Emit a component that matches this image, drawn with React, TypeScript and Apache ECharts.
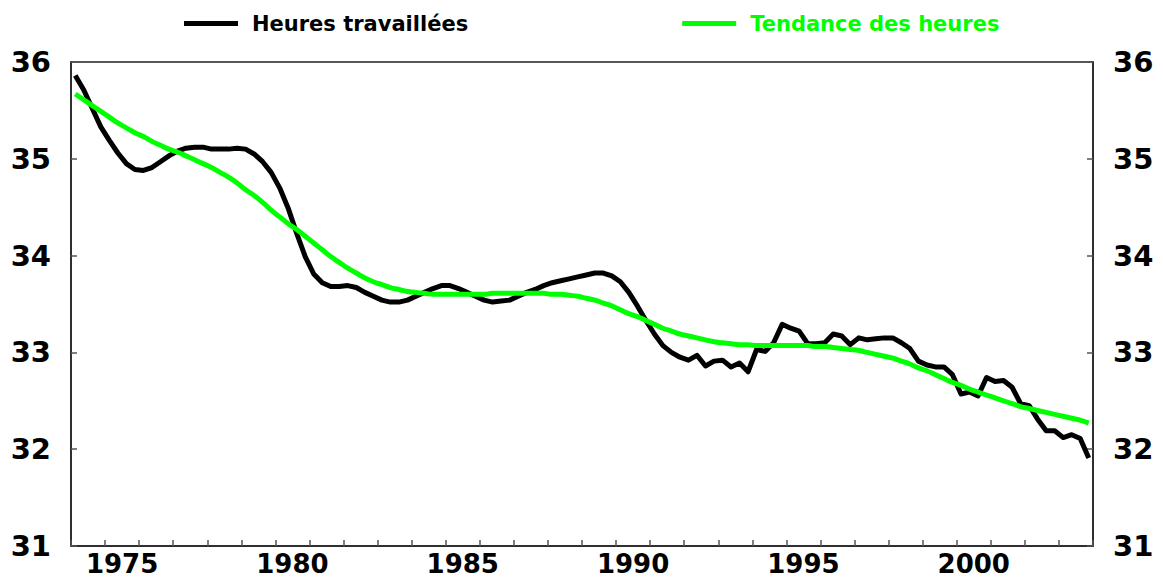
import React, { useEffect, useRef } from "react";
import * as echarts from "echarts";

const START_YEAR = 1974;
const END_YEAR = 2004;

// Quarterly average weekly hours worked, 1974Q1 - 2003Q4
const hours = [
  35.86, 35.71, 35.52, 35.33, 35.19, 35.06, 34.95, 34.89, 34.88, 34.91,
  34.97, 35.03, 35.08, 35.11, 35.12, 35.12, 35.10, 35.10, 35.10, 35.11,
  35.10, 35.05, 34.97, 34.86, 34.70, 34.49, 34.23, 33.99, 33.81, 33.72,
  33.68, 33.68, 33.69, 33.67, 33.62, 33.58, 33.54, 33.52, 33.52, 33.54,
  33.58, 33.62, 33.66, 33.69, 33.69, 33.66, 33.62, 33.58, 33.54, 33.52,
  33.53, 33.54, 33.58, 33.62, 33.65, 33.69, 33.72, 33.74, 33.76, 33.78,
  33.80, 33.82, 33.82, 33.79, 33.73, 33.62, 33.48, 33.33, 33.19, 33.07,
  33.00, 32.95, 32.92, 32.97, 32.86, 32.91, 32.92, 32.85, 32.89, 32.80,
  33.03, 33.01, 33.10, 33.29, 33.25, 33.22, 33.09, 33.09, 33.10, 33.19,
  33.17, 33.08, 33.15, 33.13, 33.14, 33.15, 33.15, 33.10, 33.04, 32.91,
  32.87, 32.85, 32.85, 32.77, 32.57, 32.59, 32.55, 32.74, 32.70, 32.71,
  32.64, 32.47, 32.45, 32.31, 32.19, 32.19, 32.12, 32.15, 32.11, 31.91,
];

// Trend of hours, same quarters
const trend = [
  35.67, 35.61, 35.55, 35.49, 35.43, 35.37, 35.32, 35.27, 35.23, 35.18,
  35.14, 35.10, 35.07, 35.03, 34.99, 34.95, 34.91, 34.86, 34.81, 34.75,
  34.68, 34.62, 34.55, 34.47, 34.40, 34.33, 34.27, 34.20, 34.13, 34.06,
  33.99, 33.93, 33.87, 33.82, 33.77, 33.73, 33.70, 33.67, 33.65, 33.63,
  33.62, 33.61, 33.60, 33.60, 33.60, 33.60, 33.60, 33.60, 33.60, 33.61,
  33.61, 33.61, 33.61, 33.61, 33.61, 33.61, 33.60, 33.60, 33.59, 33.58,
  33.56, 33.54, 33.51, 33.48, 33.44, 33.40, 33.37, 33.33, 33.29, 33.25,
  33.22, 33.19, 33.17, 33.15, 33.13, 33.11, 33.10, 33.09, 33.08, 33.08,
  33.07, 33.07, 33.07, 33.07, 33.07, 33.07, 33.07, 33.06, 33.06, 33.05,
  33.04, 33.03, 33.02, 33.00, 32.98, 32.96, 32.94, 32.91, 32.88, 32.84,
  32.81, 32.77, 32.73, 32.69, 32.66, 32.62, 32.59, 32.56, 32.53, 32.50,
  32.47, 32.44, 32.42, 32.40, 32.38, 32.36, 32.34, 32.32, 32.30, 32.27,
];

// Mid-quarter positions on the time axis
const quarterDates = hours.map((_, i) => START_YEAR + (i + 0.5) / 4);

const yearLabels = [1975, 1980, 1985, 1990, 1995, 2000];
const seriesNames = ["Heures travaillées", "Tendance des heures"];
const seriesColors = ["#000000", "#00ff00"];

const FONT = "DejaVu Sans";

export default function App() {
  const ref = useRef<HTMLDivElement>(null);

  useEffect(() => {
    const chart = echarts.init(ref.current!, null, { renderer: "svg" });
    const yAxisBase = {
      type: "value",
      min: 31,
      max: 36,
      interval: 1,
      axisLine: { show: true, lineStyle: { color: "#222", width: 1.5 } },
      axisTick: { show: true, inside: true, length: 6, lineStyle: { color: "#555", width: 1.5 } },
      splitLine: { show: false },
      axisLabel: {
        show: true,
        margin: 20,
        color: "#000",
        fontFamily: FONT,
        fontWeight: "bold",
        fontSize: 29,
      },
    };
    chart.setOption({
      animation: false,
      backgroundColor: "#ffffff",
      grid: {
        left: 71,
        right: 70,
        top: 62,
        bottom: 36,
        show: true,
        borderColor: "#222",
        borderWidth: 1.5,
        backgroundColor: "transparent",
      },
      legend: {
        left: 179,
        top: 8,
        icon: "rect",
        itemWidth: 54,
        itemHeight: 5,
        itemGap: 214,
        textStyle: {
          fontFamily: FONT,
          fontWeight: "bold",
          fontSize: 21,
          padding: [0, 0, 0, 9],
        },
        data: seriesNames.map((n, i) => ({ name: n, textStyle: { color: seriesColors[i] } })),
      },
      xAxis: [
        {
          type: "value",
          min: START_YEAR,
          max: END_YEAR,
          interval: 1,
          position: "bottom",
          axisLine: { show: true, lineStyle: { color: "#222", width: 1.5 } },
          axisTick: { show: true, inside: true, length: 6, lineStyle: { color: "#555", width: 1.5 } },
          axisLabel: { show: false },
          splitLine: { show: false },
        },
        {
          type: "value",
          min: START_YEAR,
          max: END_YEAR,
          interval: 0.5,
          position: "bottom",
          axisLine: { show: false },
          axisTick: { show: false },
          splitLine: { show: false },
          axisLabel: {
            show: true,
            margin: 5,
            color: "#000",
            fontFamily: FONT,
            fontWeight: "bold",
            fontSize: 26,
            formatter: (v: number) => {
              const y = Math.round((v - 0.5) * 100) / 100;
              return Number.isInteger(y) && yearLabels.includes(y) ? String(y) : "";
            },
          },
        },
      ],
      yAxis: [
        { ...yAxisBase, position: "left" },
        { ...yAxisBase, position: "right" },
      ],
      series: [
        {
          name: seriesNames[0],
          type: "line",
          xAxisIndex: 0,
          yAxisIndex: 0,
          showSymbol: false,
          symbol: "none",
          data: quarterDates.map((t, i) => [t, hours[i]]),
          lineStyle: { color: seriesColors[0], width: 5, join: "round" },
          itemStyle: { color: seriesColors[0] },
        },
        {
          name: seriesNames[1],
          type: "line",
          xAxisIndex: 0,
          yAxisIndex: 0,
          showSymbol: false,
          symbol: "none",
          smooth: true,
          data: quarterDates.map((t, i) => [t, trend[i]]),
          lineStyle: { color: seriesColors[1], width: 5 },
          itemStyle: { color: seriesColors[1] },
        },
      ],
    });
    return () => chart.dispose();
  }, []);

  return (
    <div
      ref={ref}
      style={{ position: "fixed", left: 0, top: 0, width: 1163, height: 582 }}
    />
  );
}
